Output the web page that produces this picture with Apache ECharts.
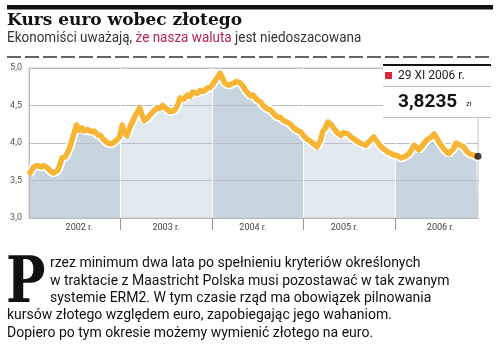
<!DOCTYPE html>
<html>
<head>
<meta charset="utf-8">
<script src="https://cdn.jsdelivr.net/npm/echarts@6/dist/echarts.min.js"></script>
<style>
  html, body { margin: 0; padding: 0; background: #fff; }
  #chart { width: 500px; height: 351px; }
</style>
</head>
<body>
<div id="chart"></div>
<script>
// time as fractional year, EUR/PLN rate
const years = [
  2002.00, 2002.02, 2002.05, 2002.09, 2002.13, 2002.16, 2002.20, 2002.24, 2002.27, 2002.31,
  2002.33, 2002.36, 2002.40, 2002.42, 2002.45, 2002.47, 2002.49, 2002.52, 2002.55, 2002.58,
  2002.60, 2002.64, 2002.68, 2002.71, 2002.75, 2002.78, 2002.82, 2002.86, 2002.90, 2002.93,
  2002.96, 2002.99, 2003.02, 2003.04, 2003.07, 2003.10, 2003.13, 2003.16, 2003.21, 2003.24,
  2003.26, 2003.30, 2003.32, 2003.36, 2003.40, 2003.43, 2003.46, 2003.49, 2003.54, 2003.59,
  2003.63, 2003.65, 2003.69, 2003.73, 2003.76, 2003.79, 2003.84, 2003.87, 2003.91, 2003.95,
  2003.98, 2004.01, 2004.04, 2004.09, 2004.11, 2004.14, 2004.18, 2004.20, 2004.24, 2004.27,
  2004.31, 2004.34, 2004.37, 2004.42, 2004.45, 2004.49, 2004.53, 2004.56, 2004.60, 2004.64,
  2004.67, 2004.71, 2004.75, 2004.78, 2004.82, 2004.86, 2004.89, 2004.93, 2004.97, 2005.00,
  2005.04, 2005.08, 2005.11, 2005.15, 2005.19, 2005.21, 2005.24, 2005.27, 2005.31, 2005.33,
  2005.37, 2005.41, 2005.44, 2005.46, 2005.49, 2005.52, 2005.56, 2005.59, 2005.64, 2005.68,
  2005.72, 2005.77, 2005.80, 2005.85, 2005.88, 2005.92, 2005.96, 2005.99, 2006.03, 2006.07,
  2006.11, 2006.14, 2006.18, 2006.21, 2006.24, 2006.26, 2006.30, 2006.32, 2006.36, 2006.40,
  2006.43, 2006.45, 2006.48, 2006.53, 2006.56, 2006.59, 2006.64, 2006.67, 2006.70, 2006.75,
  2006.78, 2006.81, 2006.86, 2006.89, 2006.91
];
const rate = [
  3.58, 3.62, 3.68, 3.70, 3.68, 3.70, 3.67, 3.62, 3.60, 3.63,
  3.68, 3.80, 3.82, 3.87, 3.95, 4.04, 4.12, 4.24, 4.17, 4.20,
  4.16, 4.18, 4.15, 4.16, 4.11, 4.10, 4.04, 4.00, 3.99, 4.01,
  4.04, 4.08, 4.24, 4.14, 4.10, 4.20, 4.28, 4.36, 4.47, 4.36,
  4.30, 4.34, 4.35, 4.42, 4.47, 4.46, 4.50, 4.47, 4.42, 4.43,
  4.52, 4.60, 4.58, 4.64, 4.62, 4.68, 4.66, 4.70, 4.69, 4.73,
  4.74, 4.78, 4.84, 4.93, 4.88, 4.80, 4.77, 4.76, 4.80, 4.82,
  4.80, 4.76, 4.70, 4.63, 4.64, 4.58, 4.55, 4.50, 4.46, 4.44,
  4.40, 4.35, 4.34, 4.30, 4.28, 4.25, 4.21, 4.17, 4.15, 4.10,
  4.05, 4.02, 3.99, 3.95, 4.04, 4.15, 4.20, 4.28, 4.24, 4.20,
  4.14, 4.10, 4.14, 4.16, 4.12, 4.08, 4.05, 4.02, 3.99, 3.97,
  4.02, 4.08, 4.03, 3.95, 3.92, 3.88, 3.86, 3.84, 3.83, 3.80,
  3.82, 3.84, 3.90, 3.97, 3.94, 3.91, 3.96, 4.00, 4.05, 4.08,
  4.12, 4.10, 4.02, 3.93, 3.89, 3.86, 3.92, 4.00, 3.98, 3.95,
  3.90, 3.86, 3.84, 3.82, 3.8235
];
const yearTicks = [2003, 2004, 2005, 2006];
const yearLabelPos = [2002.55, 2003.5, 2004.45, 2005.45, 2006.5];
const lastDate = '29 XI 2006 r.';
const lastValue = '3,8235';

const dark = '#c8d5e0';
const light = '#e1e8ee';

const points = years.map((t, i) => [t, rate[i]]);

const para = (text, x, y) => ({
  type: 'text', x: x, y: y,
  style: { text: text, font: '14px Roboto', fill: '#111', textVerticalAlign: 'middle', verticalAlign: 'middle' },
});

let myChart = echarts.init(document.getElementById('chart'));
myChart.setOption({
  animation: false,
  grid: { left: 29, right: 22, top: 68, bottom: 133, show: true, borderColor: '#c4c4c4', borderWidth: 1 },
  xAxis: {
    type: 'value',
    min: 2002,
    max: 2006.91,
    interval: 1,
    axisLine: { lineStyle: { color: '#b8b8b8' } },
    axisTick: { customValues: yearTicks, length: 12, lineStyle: { color: '#9a9a9a' } },
    splitLine: { show: true, lineStyle: { color: '#ffffff', width: 1 } },
    axisLabel: {
      customValues: yearLabelPos,
      formatter: (v) => Math.floor(v) + ' r.',
      fontSize: 9,
      color: '#444',
      margin: 5,
      fontFamily: 'Roboto',
    },
  },
  yAxis: {
    type: 'value',
    min: 3,
    max: 5,
    interval: 0.5,
    axisLine: { show: true, lineStyle: { color: '#b8b8b8' } },
    axisTick: { show: false },
    splitLine: { lineStyle: { color: '#b9c0c7' } },
    axisLabel: {
      formatter: (v) => v.toFixed(1).replace('.', ','),
      fontSize: 9,
      color: '#555',
      margin: 7,
      fontFamily: 'Roboto',
    },
  },
  visualMap: {
    show: false,
    type: 'piecewise',
    dimension: 0,
    seriesIndex: 0,
    pieces: [
      { lt: 2003, color: dark },
      { gte: 2003, lt: 2004, color: light },
      { gte: 2004, lt: 2005, color: dark },
      { gte: 2005, lt: 2006, color: light },
      { gte: 2006, color: dark },
    ],
  },
  series: [
    {
      type: 'line',
      data: points,
      z: -1,
      showSymbol: false,
      lineStyle: { width: 0 },
      areaStyle: { opacity: 1 },
      silent: true,
    },
    {
      type: 'line',
      data: points,
      showSymbol: false,
      lineStyle: { color: '#ffffff', width: 9 },
      silent: true,
    },
    {
      type: 'line',
      data: points,
      showSymbol: false,
      lineStyle: { color: '#f6b535', width: 5.5, join: 'round' },
      silent: true,
    },
    {
      type: 'scatter',
      data: [points[points.length - 1]],
      symbolSize: 7,
      itemStyle: { color: '#111' },
      z: 5,
    },
  ],
  graphic: [
    { type: 'rect', shape: { x: 7, y: 5, width: 486, height: 4.5 }, style: { fill: '#111' } },
    {
      type: 'text', x: 7, y: 21,
      style: { text: 'Kurs euro wobec złotego', font: 'bold 17px "DejaVu Serif"', fill: '#111', textVerticalAlign: 'middle', verticalAlign: 'middle' },
    },
    {
      type: 'text', x: 7, y: 38, scaleX: 0.93,
      style: {
        text: '{a|Ekonomiści uważają, }{b|że nasza waluta}{a| jest niedoszacowana}',
        verticalAlign: 'middle', textVerticalAlign: 'middle',
        rich: {
          a: { font: '14.5px Roboto', fill: '#333', color: '#333' },
          b: { font: '14.5px Roboto', fill: '#b8235a', color: '#b8235a' },
        },
      },
    },
    { type: 'line', shape: { x1: 7, y1: 57, x2: 493, y2: 57 }, style: { stroke: '#333', lineWidth: 1.5, lineDash: [14, 4] } },

    // last value box
    { type: 'rect', z: 10, shape: { x: 383, y: 64, width: 110, height: 53 }, style: { fill: '#fff' } },
    { type: 'line', z: 11, shape: { x1: 383, y1: 65, x2: 491, y2: 65 }, style: { stroke: '#111', lineWidth: 2 } },
    { type: 'line', z: 11, shape: { x1: 383, y1: 86.5, x2: 491, y2: 86.5 }, style: { stroke: '#bdbdbd', lineWidth: 1 } },
    { type: 'line', z: 11, shape: { x1: 383, y1: 117.5, x2: 491, y2: 117.5 }, style: { stroke: '#bdbdbd', lineWidth: 1 } },
    { type: 'rect', z: 11, shape: { x: 385, y: 72, width: 7, height: 7 }, style: { fill: '#d42a3c' } },
    {
      type: 'text', z: 11, x: 398, y: 76,
      style: { text: lastDate, font: '12px Roboto', fill: '#222', textVerticalAlign: 'middle', verticalAlign: 'middle' },
    },
    {
      type: 'text', z: 11, x: 398, y: 102,
      style: { text: lastValue, font: 'bold 19px Roboto', fill: '#111', textVerticalAlign: 'middle', verticalAlign: 'middle' },
    },
    {
      type: 'text', z: 11, x: 466, y: 104,
      style: { text: 'zł', font: '7px Roboto', fill: '#222', textVerticalAlign: 'middle', verticalAlign: 'middle' },
    },

    // paragraph
    {
      type: 'text', x: 6, y: 285, scaleX: 0.82,
      style: { text: 'P', font: 'bold 64px "DejaVu Serif"', fill: '#111', textVerticalAlign: 'middle', verticalAlign: 'middle' },
    },
    para('rzez minimum dwa lata po spełnieniu kryteriów określonych', 50, 263),
    para('w traktacie z Maastricht Polska musi pozostawać w tak zwanym', 50, 281),
    para('systemie ERM2. W tym czasie rząd ma obowiązek pilnowania', 50, 298),
    para('kursów złotego względem euro, zapobiegając jego wahaniom.', 7, 315.5),
    para('Dopiero po tym okresie możemy wymienić złotego na euro.', 7, 333),
  ],
});

window.addEventListener('resize', () => {
  myChart.resize();
});
</script>
</body>
</html>
